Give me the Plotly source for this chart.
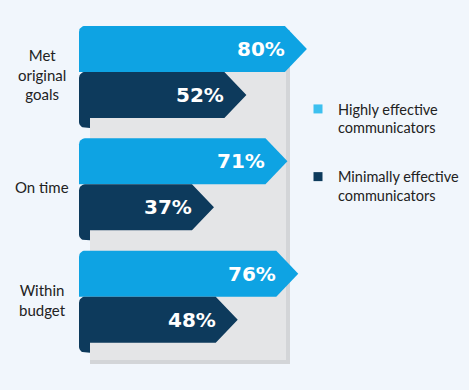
import numpy as np
import plotly.graph_objects as go

# ---------------- data ----------------
categories = ["Met<br>original<br>goals", "On time", "Within<br>budget"]
series_names = ["Highly effective<br>communicators", "Minimally effective<br>communicators"]
highly = [80, 71, 76]
minimally = [52, 37, 48]

# ---------------- style ----------------
W, H = 469, 390
BG = "#f1f6fc"
LIGHT = "#0ea3e3"
LIGHT_LEG = "#3dc0ef"
DARK = "#0d3a5c"
PANEL = "#e4e5e7"
PANEL_EDGE = "#d3d5d8"
TXT = "#222222"

X_RANGE = [-62.0, 155.0]
Y_RANGE = [2.83, -0.64]
PXX = W / (X_RANGE[1] - X_RANGE[0])
PXY = H / (Y_RANGE[0] - Y_RANGE[1])


def vx(px):
    return X_RANGE[0] + px / PXX


def vy(py):
    return Y_RANGE[1] + py / PXY


BAR_START = vx(79)
PANEL_LEFT = vx(90)
PANEL_RIGHT = vx(290)
HALF = 46 / PXY
TAIL = 10 / PXY
TIP = 22 / PXX
RX, RY = 6 / PXX, 6 / PXY


def arc(cx, cy, a0, a1, n=8):
    t = np.linspace(a0, a1, n)
    return list(cx + RX * np.cos(t)), list(cy - RY * np.sin(t))


def light_poly(v, yc):
    y0, y1 = yc - HALF, yc
    ax, ay = arc(BAR_START + RX, y0 + RY, np.pi, np.pi / 2)
    xs = ax + [v - TIP, v, v - TIP, BAR_START, BAR_START]
    ys = ay + [y0, (y0 + y1) / 2, y1, y1, y0 + RY]
    return xs, ys


def dark_poly(v, yc):
    y0, y1 = yc, yc + HALF
    ax, ay = arc(BAR_START + RX, y0 + RY, np.pi, np.pi / 2)
    bx, by = arc(BAR_START + RX, y1 + TAIL - RY, -np.pi / 2, -np.pi)
    xs = ax + [v - TIP, v, v - TIP, PANEL_LEFT, PANEL_LEFT] + bx + [BAR_START]
    ys = ay + [y0, (y0 + y1) / 2, y1, y1, y1 + TAIL] + by + [y0 + RY]
    return xs, ys


fig = go.Figure()

for i, (hv, mv) in enumerate(zip(highly, minimally)):
    xs, ys = light_poly(hv, i)
    fig.add_trace(go.Scatter(x=xs, y=ys, fill="toself", fillcolor=LIGHT, mode="lines",
                             line=dict(width=0, color=LIGHT), showlegend=False, hoverinfo="skip"))
    xs, ys = dark_poly(mv, i)
    fig.add_trace(go.Scatter(x=xs, y=ys, fill="toself", fillcolor=DARK, mode="lines",
                             line=dict(width=0, color=DARK), showlegend=False, hoverinfo="skip"))
    for v, yc in ((hv, i - HALF / 2), (mv, i + HALF / 2)):
        fig.add_annotation(x=v, y=yc, text=f"{v}%", showarrow=False, xanchor="right",
                           xshift=-20, yshift=0,
                           font=dict(family="DejaVu Sans", size=20, color="white", weight="bold"))
    fig.add_annotation(x=0.09, xref="paper", y=i, yref="y", text=categories[i], showarrow=False,
                       xanchor="center", align="center", yshift=-3,
                       font=dict(family="Lato", size=15, color=TXT))

# legend entries
for k, (name, col) in enumerate(zip(series_names, [LIGHT_LEG, DARK])):
    fig.add_trace(go.Scatter(x=[None], y=[None], mode="markers", name=name,
                             legendgroup=f"g{k}",
                             marker=dict(symbol="square", size=9, color=col)))

# background panel
fig.add_shape(type="rect", x0=PANEL_LEFT, x1=PANEL_RIGHT, y0=vy(30), y1=vy(364),
              fillcolor=PANEL_EDGE, line=dict(width=0), layer="below")
fig.add_shape(type="rect", x0=PANEL_LEFT, x1=vx(286), y0=vy(30), y1=vy(360),
              fillcolor=PANEL, line=dict(width=0), layer="below")

fig.update_layout(
    width=W, height=H,
    margin=dict(l=0, r=0, t=0, b=0),
    paper_bgcolor=BG, plot_bgcolor=BG,
    xaxis=dict(range=X_RANGE, visible=False, fixedrange=True),
    yaxis=dict(range=Y_RANGE, visible=False, fixedrange=True),
    legend=dict(x=1 - 5 / W, y=1 - 93 / H, xanchor="right", yanchor="top", valign="top",
                font=dict(family="Lato", size=14.5, color=TXT), bgcolor="rgba(0,0,0,0)",
                tracegroupgap=27, borderwidth=0),
    showlegend=True,
)

fig.write_html("out.html", config={"displayModeBar": False},
               post_script="document.body.style.margin='0';")
